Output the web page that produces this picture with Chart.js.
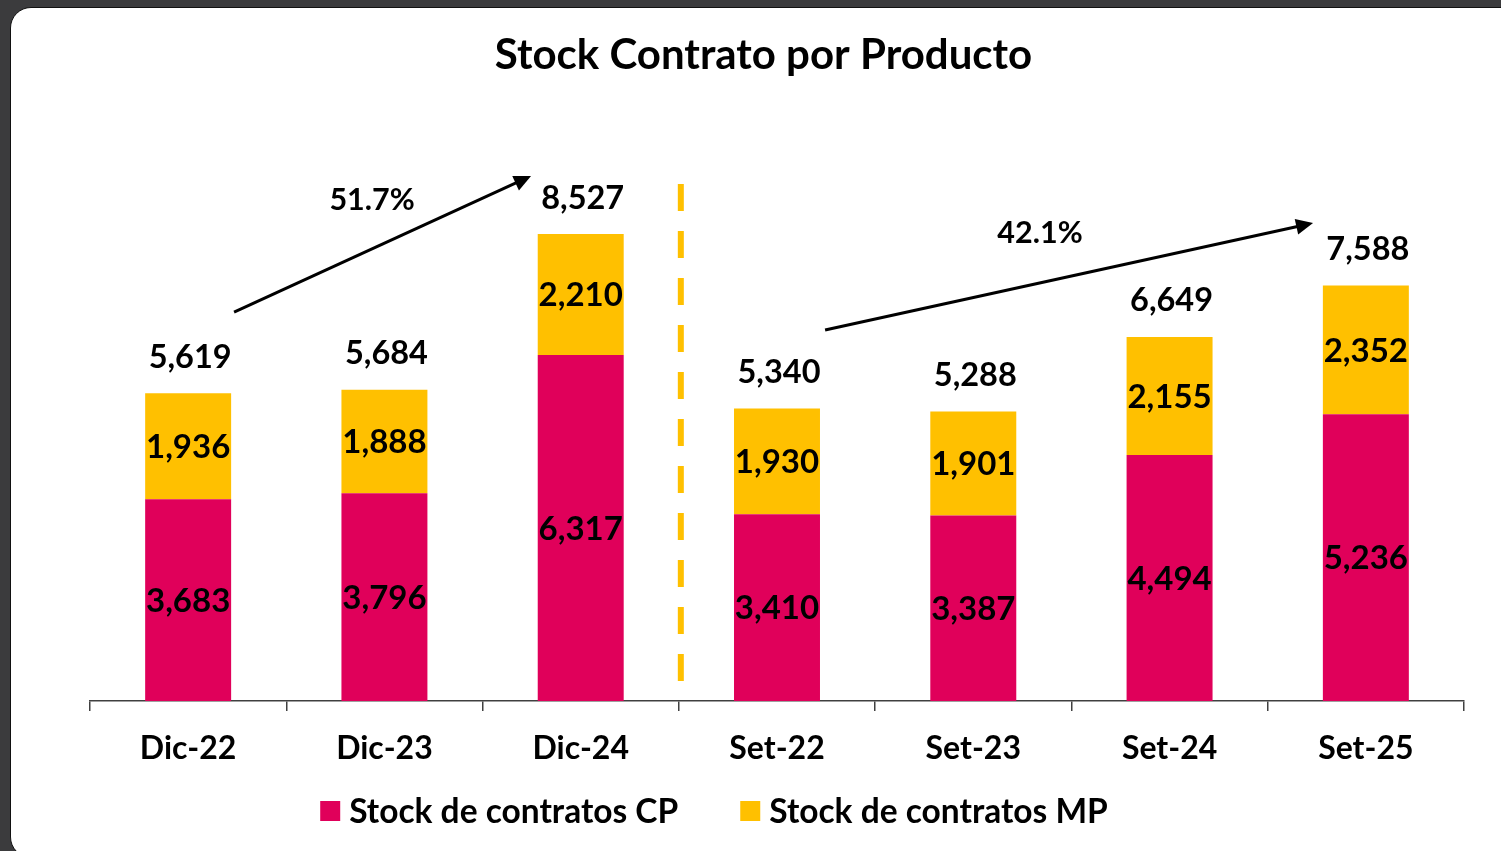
<!DOCTYPE html>
<html><head><meta charset="utf-8">
<script src="https://cdn.jsdelivr.net/npm/chart.js@4/dist/chart.umd.min.js"></script>
<style>
html,body{margin:0;padding:0;background:#3b3b3d;width:1501px;height:851px;overflow:hidden;}
#panel{position:absolute;left:10px;top:7px;width:1560px;height:851px;background:#fff;border:1px solid #111;border-radius:21px;box-sizing:border-box;}
#wrap{position:absolute;left:0;top:0;width:1501px;height:851px;}
</style></head><body>
<div id="panel"></div>
<div id="wrap"><canvas id="c" width="1501" height="851"></canvas></div>
<script>
const categories = ['Dic-22','Dic-23','Dic-24','Set-22','Set-23','Set-24','Set-25'];
const stockCP = [3683, 3796, 6317, 3410, 3387, 4494, 5236];
const stockMP = [1936, 1888, 2210, 1930, 1901, 2155, 2352];
const seriesNames = ['Stock de contratos CP', 'Stock de contratos MP'];
const growthLabels = ['51.7%', '42.1%'];
const chartTitle = 'Stock Contrato por Producto';

const COLOR_CP = '#E0005A';
const COLOR_MP = '#FFC000';
const FONT = 'Lato';
const fmt = v => v.toLocaleString('en-US');

const valueLabels = {
  id: 'valueLabels',
  afterDatasetsDraw(chart) {
    const ctx = chart.ctx;
    ctx.save();
    ctx.fillStyle = '#000';
    ctx.textAlign = 'center';
    ctx.textBaseline = 'middle';
    ctx.font = 'bold 33px ' + FONT;
    chart.data.datasets.forEach((ds, di) => {
      const meta = chart.getDatasetMeta(di);
      meta.data.forEach((el, i) => {
        ctx.fillText(fmt(ds.data[i]), el.x, (el.y + el.base) / 2 + 1);
      });
    });
    const topMeta = chart.getDatasetMeta(chart.data.datasets.length - 1);
    ctx.font = 'bold 32.5px ' + FONT;
    topMeta.data.forEach((el, i) => {
      const total = chart.data.datasets.reduce((s, d) => s + d.data[i], 0);
      ctx.fillText(fmt(total), el.x + 2, el.y - 36);
    });
    ctx.restore();
  }
};

const annotations = {
  id: 'annotations',
  afterDatasetsDraw(chart, args, opts) {
    const xs = chart.scales.x, ys = chart.scales.y, ctx = chart.ctx;
    ctx.save();
    const sep = opts.separator;
    const sx = xs.getPixelForValue(sep.x);
    ctx.strokeStyle = COLOR_MP;
    ctx.lineWidth = 6;
    ctx.setLineDash([27, 20]);
    ctx.beginPath();
    ctx.moveTo(sx, ys.getPixelForValue(sep.from));
    ctx.lineTo(sx, ys.getPixelForValue(sep.to));
    ctx.stroke();
    ctx.setLineDash([]);
    opts.arrows.forEach((a, k) => {
      const x1 = xs.getPixelForValue(a.from[0]), y1 = ys.getPixelForValue(a.from[1]);
      const x2 = xs.getPixelForValue(a.to[0]), y2 = ys.getPixelForValue(a.to[1]);
      const ang = Math.atan2(y2 - y1, x2 - x1);
      const hl = 17, hw = 8;
      ctx.strokeStyle = '#000';
      ctx.fillStyle = '#000';
      ctx.lineWidth = 3;
      ctx.beginPath();
      ctx.moveTo(x1, y1);
      ctx.lineTo(x2 - Math.cos(ang) * hl * 0.8, y2 - Math.sin(ang) * hl * 0.8);
      ctx.stroke();
      ctx.beginPath();
      ctx.moveTo(x2, y2);
      ctx.lineTo(x2 - Math.cos(ang) * hl - Math.sin(ang) * hw, y2 - Math.sin(ang) * hl + Math.cos(ang) * hw);
      ctx.lineTo(x2 - Math.cos(ang) * hl + Math.sin(ang) * hw, y2 - Math.sin(ang) * hl - Math.cos(ang) * hw);
      ctx.closePath();
      ctx.fill();
      ctx.font = 'bold 30.5px ' + FONT;
      ctx.textAlign = 'center';
      ctx.textBaseline = 'middle';
      ctx.fillText(growthLabels[k], xs.getPixelForValue(a.text[0]), ys.getPixelForValue(a.text[1]));
    });
    ctx.restore();
  }
};

const customLegend = {
  id: 'customLegend',
  afterDraw(chart, args, opts) {
    const ctx = chart.ctx;
    ctx.save();
    ctx.font = 'bold 33.5px ' + FONT;
    ctx.textBaseline = 'middle';
    ctx.textAlign = 'left';
    const items = chart.data.datasets.map(d => ({ text: d.label, color: d.backgroundColor }));
    const box = 20, gapText = 9, gapItem = 62;
    const widths = items.map(it => box + gapText + ctx.measureText(it.text).width);
    const total = widths.reduce((s, w) => s + w, 0) + gapItem * (items.length - 1);
    let x = opts.centerX - total / 2;
    const y = opts.centerY;
    items.forEach((it, i) => {
      ctx.fillStyle = it.color;
      ctx.fillRect(x, y - box / 2, box, box);
      ctx.fillStyle = '#000';
      ctx.fillText(it.text, x + box + gapText, y + 1);
      x += widths[i] + gapItem;
    });
    ctx.restore();
  }
};

new Chart(document.getElementById('c'), {
  type: 'bar',
  data: {
    labels: categories,
    datasets: [
      { label: seriesNames[0], data: stockCP, backgroundColor: COLOR_CP, borderWidth: 0 },
      { label: seriesNames[1], data: stockMP, backgroundColor: COLOR_MP, borderWidth: 0 }
    ]
  },
  options: {
    responsive: false,
    animation: false,
    devicePixelRatio: 1,
    layout: { padding: { left: 26, right: 0, top: 0, bottom: 84 } },
    datasets: { bar: { categoryPercentage: 1, barPercentage: 0.438 } },
    scales: {
      x: {
        stacked: true,
        grid: { display: true, drawOnChartArea: false, drawTicks: true, tickLength: 10, color: '#404040', offset: true, lineWidth: 1.5 },
        border: { display: true, color: '#404040', width: 1.5 },
        ticks: { color: '#000', padding: 18, font: { family: FONT, size: 32, weight: 'bold' } },
        afterFit: s => { s.height = 66; }
      },
      y: {
        stacked: true, min: 0, max: 10000,
        grid: { display: false }, border: { display: false }, ticks: { display: false },
        afterFit: s => { s.width = 64; }
      },
      yR: {
        position: 'right', display: true,
        grid: { display: false }, border: { display: false }, ticks: { display: false },
        afterFit: s => { s.width = 37; }
      }
    },
    plugins: {
      legend: { display: false },
      tooltip: { enabled: false },
      title: {
        display: true, text: chartTitle, color: '#000',
        font: { family: FONT, size: 42, weight: 'bold' },
        padding: { top: 30, bottom: 73 }
      },
      customLegend: { centerX: 714, centerY: 811 },
      annotations: {
        separator: { x: 2.51, from: 9439, to: 365 },
        arrows: [
          { from: [0.234, 7102], to: [1.747, 9586], text: [0.937, 9147] },
          { from: [3.245, 6774], to: [5.731, 8727], text: [4.34, 8545] }
        ]
      }
    }
  },
  plugins: [valueLabels, annotations, customLegend]
});
</script>
</body></html>
